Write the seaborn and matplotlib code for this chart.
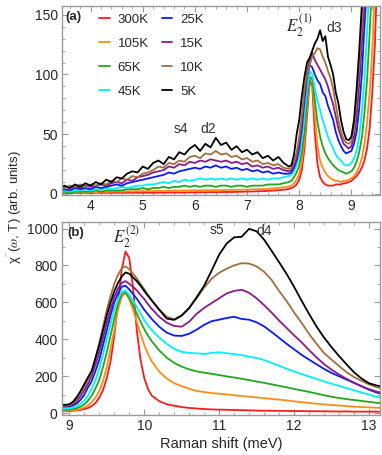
import numpy as np
import pandas as pd
import matplotlib as mpl
mpl.use("Agg")
import matplotlib.pyplot as plt
from matplotlib.ticker import MultipleLocator
import seaborn as sns

# Raman shift grid (meV): coarse in the flat part, finer around the phonon peaks
shift_low = np.round(np.arange(3.4, 7.81, 0.1), 2)      # 45 pts
shift_mid = np.round(np.arange(7.85, 10.101, 0.05), 2)  # 46 pts
shift_high = np.round(np.arange(10.2, 13.21, 0.1), 2)   # 31 pts
shift = np.concatenate([shift_low, shift_mid, shift_high])

temps = ["300K", "105K", "65K", "45K", "25K", "15K", "10K", "5K"]
colors = ["#ff1a1a", "#ff8c1a", "#1fa81f", "#00f0ff", "#0a1aff", "#8a1a8a", "#a0703c", "#000000"]

# chi'', one list per temperature (low | mid | high parts)
chi_300K = ([0.8, 1, 0.7, 1, 0.9, 1, 0.8, 1.1, 0.9, 1, 1,
             1, 1.1, 1, 1.2, 1, 1.1, 1.2, 1, 1.2, 1.1, 1.3, 1.2, 1.3, 1.2, 1.4,
             1.3, 1.5, 1.4, 1.6, 1.5, 1.6, 1.7, 1.6, 1.8, 1.9, 2,
             2.1, 2.3, 2.4, 2.6, 2.9, 3.2, 3.6, 4.2]
            + [5, 6, 8, 12, 20, 38, 65, 95, 90, 50, 25, 14, 10, 8, 7, 7, 7, 8, 8, 8, 9, 9, 10, 11,
               13, 15, 18, 22, 28, 38, 55, 85, 125, 190, 280, 420,
               600, 780, 875, 840, 680, 450, 290, 190, 130, 95]
            + [65, 48, 40, 33, 28, 25, 22, 20, 19, 18, 17, 16, 15, 14, 13, 13, 12, 12, 11, 11,
               10, 10, 10, 9, 9, 9, 8, 8, 8, 8, 7])
chi_105K = ([1.5, 1.2, 1.6, 1.4, 1.7, 1.5, 1.8, 1.6, 1.9, 1.8, 2,
             2.1, 2, 2.3, 2.2, 2.4, 2.3, 2.6, 2.5, 2.7, 2.6, 2.8, 2.9, 2.8, 3, 2.9,
             3.1, 3, 3.2, 3.1, 3.3, 3.2, 3.4, 3.3, 3.5, 3.6, 3.7,
             3.8, 4, 4.1, 4.4, 4.7, 5.1, 5.6, 6.3]
            + [7, 9, 12, 17, 27, 45, 72, 97, 95, 65, 40, 28, 22, 18, 15, 13, 12, 11, 11, 10, 11, 11,
               12, 13, 15, 18, 23, 30, 42, 60, 85, 120, 175, 250, 350, 450,
               560, 630, 650, 615, 560, 495, 430, 370, 320, 280]
            + [225, 188, 162, 146, 132, 120, 114, 109, 105, 101, 97, 93, 89, 85, 81, 77, 73, 69,
               64, 59, 55, 51, 47, 44, 41, 38, 35, 33, 31, 29, 27])
chi_65K = ([1, 2, 1, 2, 2, 2, 2, 3, 2, 3, 3,
            3, 3, 4, 4, 4, 5, 4, 5, 5, 6, 5, 6, 6, 7, 6,
            7, 6, 7, 7, 6, 7, 7, 6, 7, 7, 6,
            7, 7, 7, 8, 8, 8, 9, 10]
           + [11, 14, 18, 24, 35, 52, 78, 98, 97, 78, 60, 48, 40, 34, 30, 27, 24, 22, 20, 19, 18,
              17, 18, 19, 22, 27, 35, 47, 68, 95, 135, 180, 250, 330, 420, 510,
              590, 645, 655, 625, 585, 540, 495, 455, 420, 390]
           + [340, 300, 272, 252, 237, 226, 219, 213, 206, 199, 193, 186, 179, 171, 164, 156,
              148, 140, 131, 123, 115, 106, 97, 89, 82, 76, 71, 66, 61, 56, 52])
chi_45K = ([2, 3, 2, 3, 3, 4, 3, 4, 4, 5, 4,
            5, 6, 5, 6, 7, 7, 8, 8, 9, 10, 9, 11, 10, 12, 11,
            12, 13, 12, 13, 12, 13, 12, 13, 12, 13, 12,
            13, 12, 13, 12, 13, 13, 14, 15]
           + [16, 19, 24, 32, 45, 65, 88, 103, 100, 88, 78, 70, 62, 55, 48, 43, 38, 33, 30, 28,
              25, 24, 24, 26, 30, 36, 48, 68, 95, 135, 180, 240, 320, 400, 480, 560,
              615, 660, 665, 640, 610, 575, 540, 505, 475, 450]
           + [410, 375, 348, 332, 326, 324, 320, 326, 330, 324, 320, 314, 306, 299, 288, 272,
              257, 241, 226, 212, 198, 186, 172, 160, 148, 136, 124, 112, 101, 88, 80])
chi_25K = ([3, 4, 3, 5, 4, 5, 4, 6, 5, 6, 7,
            8, 7, 9, 10, 11, 12, 13, 14, 15, 16, 18, 17, 19, 20, 21,
            22, 21, 23, 22, 24, 22, 23, 21, 22, 20, 21,
            19, 20, 18, 19, 17, 18, 17, 17]
           + [18, 22, 28, 38, 55, 78, 98, 108, 106, 100, 95, 92, 85, 82, 74, 68, 62, 52, 45, 40,
              36, 34, 35, 36, 42, 52, 72, 100, 140, 175, 230, 290, 370, 450, 530, 600,
              650, 685, 690, 670, 645, 620, 590, 560, 535, 510]
           + [468, 436, 420, 418, 430, 452, 478, 498, 506, 515, 522, 510, 506, 492, 470, 440,
              408, 376, 346, 316, 290, 265, 240, 218, 200, 182, 164, 146, 127, 112, 102])
chi_15K = ([4, 6, 5, 6, 5, 7, 6, 7, 8, 7, 9,
            10, 9, 12, 11, 14, 15, 16, 18, 19, 20, 23, 22, 25, 24, 27,
            26, 28, 27, 29, 28, 27, 28, 26, 27, 25, 26,
            23, 24, 22, 23, 21, 22, 20, 19]
           + [20, 24, 30, 42, 60, 82, 102, 112, 118, 112, 108, 104, 100, 96, 90, 82, 75, 65, 55,
              48, 42, 40, 38, 40, 48, 65, 92, 125, 160, 205, 265, 330, 410, 490, 560, 630,
              675, 705, 715, 700, 685, 665, 640, 618, 590, 565]
           + [522, 490, 472, 468, 495, 538, 570, 596, 622, 648, 662, 668, 652, 622, 585, 545,
              502, 462, 422, 384, 342, 302, 266, 236, 210, 186, 165, 146, 130, 117, 108])
chi_10K = ([6, 5, 7, 6, 8, 6, 8, 7, 9, 8, 11,
            10, 13, 12, 15, 14, 17, 18, 20, 23, 22, 26, 25, 28, 27, 31,
            32, 30, 34, 33, 36, 33, 34, 31, 32, 29, 30,
            27, 28, 25, 26, 24, 25, 22, 21]
           + [22, 27, 35, 48, 66, 88, 100, 108, 115, 118, 122, 121, 115, 110, 103, 97, 88, 75,
              62, 52, 46, 43, 42, 44, 55, 80, 108, 140, 180, 230, 300, 380, 470, 560, 635, 700,
              750, 785, 795, 780, 755, 730, 700, 672, 640, 612]
           + [562, 522, 508, 530, 572, 622, 680, 728, 760, 782, 800, 812, 810, 795, 766, 722,
              662, 608, 546, 490, 430, 376, 326, 290, 256, 222, 196, 175, 156, 141, 130])
chi_5K = ([5, 7, 5, 8, 6, 9, 7, 10, 8, 12, 10,
           14, 13, 17, 19, 18, 23, 21, 26, 28, 25, 31, 29, 35, 33, 38,
           41, 36, 42, 39, 47, 41, 43, 37, 40, 35, 37,
           33, 35, 30, 32, 28, 31, 26, 23]
          + [24, 33, 50, 62, 82, 98, 110, 114, 120, 126, 130, 137, 128, 132, 115, 108, 100, 85,
             76, 62, 52, 46, 45, 48, 62, 88, 120, 158, 195, 230, 300, 370, 450, 530, 600, 660,
             705, 740, 762, 755, 735, 715, 690, 662, 635, 610]
          + [560, 512, 505, 528, 568, 628, 690, 772, 858, 918, 952, 955, 998, 985, 940, 880,
             818, 755, 685, 610, 538, 470, 410, 358, 310, 265, 222, 188, 162, 150, 142])

spectra = [chi_300K, chi_105K, chi_65K, chi_45K, chi_25K, chi_15K, chi_10K, chi_5K]

frames = []
for t, chi in zip(temps, spectra):
    frames.append(pd.DataFrame({"shift": shift, "chi": chi, "T": t}))
df = pd.concat(frames, ignore_index=True)

sns.set_style("ticks")
plt.rcParams["font.family"] = ["Liberation Sans", "DejaVu Sans"]
plt.rcParams["mathtext.fontset"] = "stix"

fig = plt.figure(figsize=(3.82, 4.55), dpi=100)
ax_a = fig.add_axes([0.162, 0.571, 0.833, 0.415])
ax_b = fig.add_axes([0.162, 0.088, 0.833, 0.424])
palette = dict(zip(temps, colors))

for ax in (ax_a, ax_b):
    sns.lineplot(data=df, x="shift", y="chi", hue="T", hue_order=temps, palette=palette,
                 estimator=None, sort=False, lw=1.3, ax=ax, legend=(ax is ax_a))
    ax.set_xlabel("")
    ax.set_ylabel("")
    for s in ax.spines.values():
        s.set_color("#9a9a9a")
        s.set_linewidth(1.0)
    ax.tick_params(which="both", direction="in", top=True, right=True,
                   color="#9a9a9a", labelsize=10, pad=3)
    ax.tick_params(which="major", length=4)
    ax.tick_params(which="minor", length=2)

ax_a.set_xlim(3.45, 9.55)
ax_a.set_ylim(-1, 157)
ax_a.xaxis.set_major_locator(MultipleLocator(1))
ax_a.xaxis.set_minor_locator(MultipleLocator(0.2))
ax_a.yaxis.set_major_locator(MultipleLocator(50))
ax_a.yaxis.set_minor_locator(MultipleLocator(10))

ax_b.set_xlim(8.9, 13.15)
ax_b.set_ylim(-10, 1035)
ax_b.xaxis.set_major_locator(MultipleLocator(1))
ax_b.xaxis.set_minor_locator(MultipleLocator(0.2))
ax_b.yaxis.set_major_locator(MultipleLocator(200))
ax_b.yaxis.set_minor_locator(MultipleLocator(100))
ax_b.set_xlabel("Raman shift (meV)", fontsize=10.5, labelpad=3)

handles, labels = ax_a.get_legend_handles_labels()
ax_a.legend(handles, labels, ncol=2, loc="upper left", bbox_to_anchor=(0.1, 0.99),
            frameon=False, fontsize=9.5, handlelength=0.8, handletextpad=0.6,
            columnspacing=1.0, labelspacing=0.9, borderaxespad=0)

ax_a.text(0.012, 0.975, "(a)", transform=ax_a.transAxes, fontsize=9.5, fontweight="bold",
          va="top", ha="left")
ax_b.text(0.018, 0.975, "(b)", transform=ax_b.transAxes, fontsize=9.5, fontweight="bold",
          va="top", ha="left")

ax_a.text(5.74, 54, "s4", fontsize=10, ha="center", va="center", color="#333333")
ax_a.text(6.25, 54, "d2", fontsize=10, ha="center", va="center", color="#333333")
ax_a.text(8.0, 141, r"$E_2^{(1)}$", fontsize=12, ha="center", va="center")
ax_a.text(8.66, 139, "d3", fontsize=10, ha="center", va="center", color="#333333")

ax_b.text(9.77, 955, r"$E_2^{(2)}$", fontsize=12, ha="center", va="center")
ax_b.text(10.97, 990, "s5", fontsize=10, ha="center", va="center", color="#333333")
ax_b.text(11.6, 985, "d4", fontsize=10, ha="center", va="center", color="#333333")

fig.text(0.036, 0.545, r"χ$^{''}$($\omega$, T) (arb. units)", rotation=90,
         ha="center", va="center", fontsize=9.5)

fig.savefig("out.png", dpi=100)
